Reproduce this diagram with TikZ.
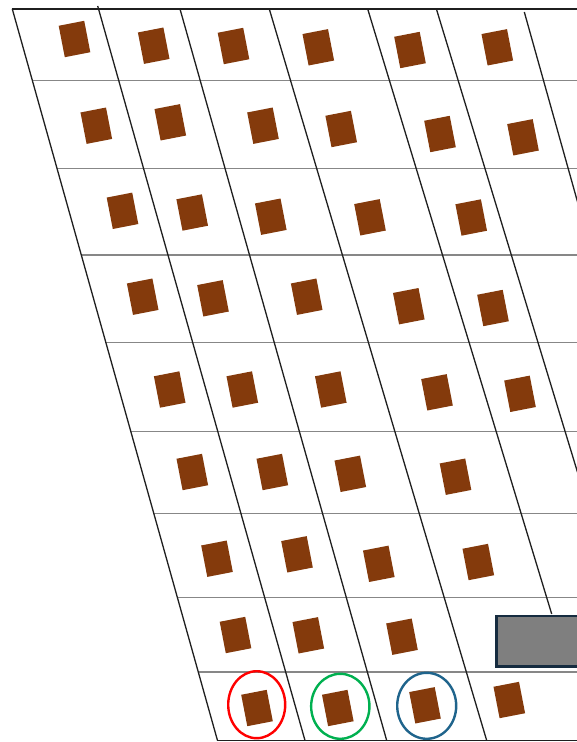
\documentclass[tikz,border=0pt]{standalone}
\usetikzlibrary{shapes.geometric}
\definecolor{brownsq}{RGB}{132,58,12}
\definecolor{gridgray}{RGB}{135,135,135}
\definecolor{ringblue}{RGB}{31,100,140}
\definecolor{ringgreen}{RGB}{0,176,80}
\definecolor{ringred}{RGB}{255,0,0}
\definecolor{boxgray}{RGB}{127,127,127}
\definecolor{boxedge}{RGB}{22,44,64}
\begin{document}
\begin{tikzpicture}[x=1pt,y=-1pt,
  sq/.style={fill=brownsq, draw=none, minimum width=26pt, minimum height=32pt, inner sep=0pt, rotate=11},
  ring/.style={ellipse, draw, line width=2.4pt, inner sep=0pt, fill=none},
  slant/.style={draw=black!88, line width=1.3pt},
  hline/.style={draw=gridgray, line width=1.2pt},
  edgeline/.style={draw=black!88, line width=1.8pt}]
\useasboundingbox (0,0) rectangle (577,742);
\fill[white] (0,0) rectangle (577,742);
\clip (0,0) rectangle (577,742);
% horizontal grey lines
\foreach \xa/\yy in {32.4/80.7, 57.1/168.5, 81.4/255, 105.9/342.3, 131/431.7, 153.9/513.3, 177.5/597.7, 198.4/672}
  \draw[hline] (\xa,\yy) -- (600,\yy);
% top and bottom edges
\coordinate (tl) at (11.5,9);
\coordinate (tr) at (600,9);
\coordinate (bl) at (217,740.5);
\coordinate (br) at (600,740.5);
\draw[edgeline] (tl) -- (tr);
\draw[edgeline] (bl) -- (br);
% slanted lines
\coordinate (a1) at (12.3,9);   \coordinate (b1) at (217.5,740.5);
\coordinate (a2) at (97.7,6);   \coordinate (b2) at (305,740.5);
\coordinate (a3) at (180,9);    \coordinate (b3) at (386.7,740.5);
\coordinate (a4) at (269.3,9);  \coordinate (b4) at (486.7,740.5);
\coordinate (a5) at (367.7,9);  \coordinate (b5) at (551.7,614);
\coordinate (a6) at (436.7,10); \coordinate (b6) at (600,546);
\coordinate (a7) at (524.3,12); \coordinate (b7) at (600,282);
\foreach \k in {1,...,7} \draw[slant] (a\k) -- (b\k);
% brown squares
\foreach \x/\y [count=\i] in {
  74.5/39, 153.7/45.7, 233.5/46, 318.3/47.3, 410/50, 497.3/47.3,
  96.3/125.7, 170.3/122.3, 263/125.7, 341.2/129, 440/134, 523/137.3,
  122.5/210.8, 192.2/212.5, 270.8/216.7, 370/217.3, 471.2/217.5,
  142.7/296.7, 213/298.3, 306.7/296.7, 408.8/306.2, 493/308,
  169.7/389.5, 242.3/389.5, 330.8/389.5, 437/392.3, 520/393.8,
  192.3/472, 272.3/472, 350.3/473.8, 455.5/476.7,
  217/558.7, 297/554.3, 378.8/563.8, 478.3/562,
  235.5/635, 308.3/635.3, 402/636.7,
  257/708, 337.8/708, 425/705.3, 509.3/700}
  \node[sq] (s\i) at (\x,\y) {};
% rings
\node[ring, draw=ringred, minimum width=57pt, minimum height=67pt] (cred) at (256.7,704.7) {};
\node[ring, draw=ringgreen, minimum width=58.3pt, minimum height=65pt] (cgreen) at (340.3,706.3) {};
\node[ring, draw=ringblue, minimum width=59pt, minimum height=66pt] (cblue) at (426.7,705.8) {};
% grey box
\node[draw=boxedge, fill=boxgray, line width=2.6pt, minimum width=110pt, minimum height=50.7pt, inner sep=0pt, anchor=north west] (gbox) at (495.3,614.6) {};
\end{tikzpicture}
\end{document}
